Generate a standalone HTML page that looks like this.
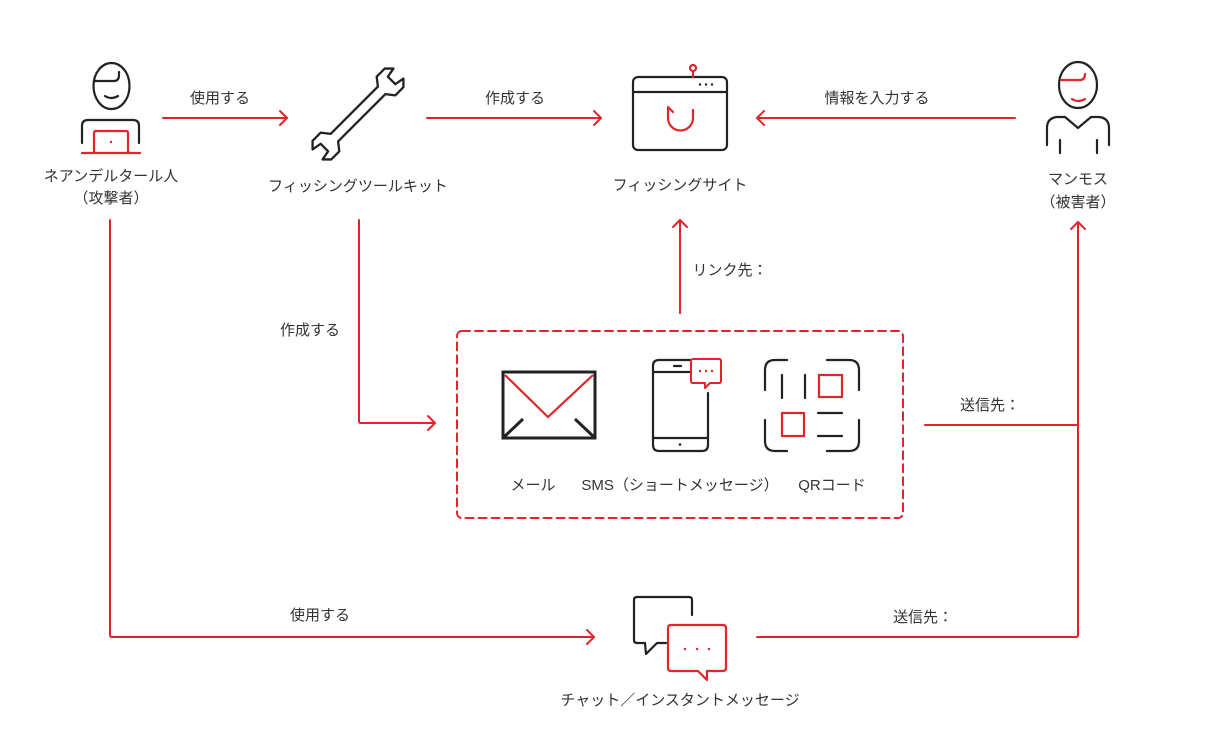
<!DOCTYPE html>
<html><head><meta charset="utf-8">
<style>
html,body{margin:0;padding:0;background:#fff;}
svg{display:block;}
text{font-family:"Liberation Sans","Noto Sans CJK JP",sans-serif;font-size:15px;fill:#333;}
</style></head>
<body>
<svg width="1210" height="745" viewBox="0 0 1210 745" xmlns="http://www.w3.org/2000/svg">
<g fill="none" stroke="#e0262b" stroke-width="2" stroke-linecap="round" stroke-linejoin="round">
  <line x1="163" y1="118" x2="287" y2="118"/>
  <polyline points="280,111 287,118 280,125"/>
  <line x1="427" y1="118" x2="601" y2="118"/>
  <polyline points="594,111 601,118 594,125"/>
  <line x1="1015" y1="118" x2="757" y2="118"/>
  <polyline points="764,111 757,118 764,125"/>
  <path d="M359 220 L359 421 Q359 423 361 423 L435 423"/>
  <polyline points="428,416 435,423 428,430"/>
  <line x1="680" y1="313" x2="680" y2="220"/>
  <polyline points="673,227 680,220 687,227"/>
  <path d="M110 220 L110 635 Q110 637 112 637 L594 637"/>
  <polyline points="587,630 594,637 587,644"/>
  <path d="M757 637 L1076 637 Q1078 637 1078 635 L1078 222"/>
  <polyline points="1071,229 1078,222 1085,229"/>
  <line x1="925" y1="425" x2="1078" y2="425"/>
  <rect x="457" y="331" width="446" height="187" rx="5" stroke-dasharray="8 5"/>
</g>

<!-- Attacker icon -->
<g fill="none" stroke="#222" stroke-width="2.2" stroke-linecap="round" stroke-linejoin="round">
  <ellipse cx="111.5" cy="86" rx="18" ry="23"/>
  <path d="M94 81 L114 81 Q119 81 119 75 L119 72"/>
  <path d="M105 96 Q111 100 118 96"/>
  <path d="M82 143 L82 126 Q82 120 88 120 L133 120 Q139 120 139 126 L139 143"/>
</g>
<g fill="none" stroke="#e0262b" stroke-width="2.2" stroke-linecap="round" stroke-linejoin="round">
  <path d="M94 152 L94 133 Q94 131 96 131 L126 131 Q128 131 128 133 L128 152"/>
  <line x1="82" y1="153" x2="140" y2="153"/>
</g>
<circle cx="111" cy="142" r="1.2" fill="#e0262b"/>

<!-- Wrench -->
<g transform="translate(358,114) rotate(-45) scale(0.88)" fill="none" stroke="#222" stroke-width="2.6" stroke-linejoin="round">
  <path d="M-38 -6 L38 -6 L45 -15 L58 -15 L65 -8 L54 -6 L54 6 L65 8 L58 15 L45 15 L38 6 L-38 6 L-45 15 L-58 15 L-65 8 L-54 6 L-54 -6 L-65 -8 L-58 -15 L-45 -15 Z"/>
</g>

<!-- Phishing site browser -->
<g fill="none" stroke="#222" stroke-width="2.2" stroke-linejoin="round">
  <rect x="633" y="77" width="94" height="73" rx="5"/>
  <line x1="633" y1="92" x2="727" y2="92"/>
</g>
<g fill="#222">
  <circle cx="700" cy="84.5" r="1.2"/><circle cx="706" cy="84.5" r="1.2"/><circle cx="712" cy="84.5" r="1.2"/>
</g>
<g fill="none" stroke="#e0262b" stroke-width="2.2" stroke-linecap="round" stroke-linejoin="round">
  <line x1="693" y1="71" x2="693" y2="77"/>
  <circle cx="693" cy="68" r="3"/>
  <path d="M693 110 L693 118 A12.5 12.5 0 0 1 668 118 L668 107 L673 112"/>
</g>

<!-- Victim icon -->
<g fill="none" stroke="#222" stroke-width="2.2" stroke-linecap="round" stroke-linejoin="round">
  <ellipse cx="1078" cy="85" rx="19" ry="23"/>
  <path d="M1047 145 L1047 128 Q1047 118 1057 117 L1065 117 L1078 128 L1091 117 L1099 117 Q1109 118 1109 128 L1109 145"/>
  <line x1="1060" y1="140" x2="1060" y2="153"/>
  <line x1="1097" y1="140" x2="1097" y2="153"/>
</g>
<g fill="none" stroke="#e0262b" stroke-width="2.2" stroke-linecap="round">
  <path d="M1061 80 L1080 80 Q1085 80 1085 74"/>
  <path d="M1072 99 Q1078 103 1085 99"/>
</g>

<!-- Envelope -->
<g fill="none" stroke="#222" stroke-width="3" stroke-linecap="butt">
  <rect x="503" y="372" width="92" height="66"/>
  <line x1="504" y1="437" x2="523" y2="419"/>
  <line x1="594" y1="437" x2="575" y2="419"/>
</g>
<polyline points="505,375 548,417 593,375" fill="none" stroke="#e0262b" stroke-width="2.2"/>

<!-- Phone -->
<g fill="none" stroke="#222" stroke-width="2.2" stroke-linecap="round" stroke-linejoin="round">
  <path d="M690 360 L659 360 Q653 360 653 366 L653 445 Q653 451 659 451 L702 451 Q708 451 708 445 L708 393"/>
  <line x1="653" y1="372" x2="708" y2="372" stroke-linecap="butt"/>
  <line x1="653" y1="438" x2="708" y2="438"/>
  <line x1="674" y1="366" x2="681" y2="366"/>
</g>
<circle cx="680" cy="444.5" r="1.3" fill="#222"/>
<g fill="none" stroke="#e0262b" stroke-width="2" stroke-linejoin="round">
  <path d="M693 359 L719 359 Q721 359 721 361 L721 381 Q721 383 719 383 L710 383 L705 388 L705 383 L693 383 Q691 383 691 381 L691 361 Q691 359 693 359 Z" fill="#fff"/>
</g>
<g fill="#e0262b">
  <circle cx="700" cy="371" r="1.2"/><circle cx="706" cy="371" r="1.2"/><circle cx="712" cy="371" r="1.2"/>
</g>

<!-- QR -->
<g fill="none" stroke="#222" stroke-width="2.2" stroke-linecap="round" stroke-linejoin="round">
  <path d="M765 390 L765 370 Q765 360 775 360 L787 360"/>
  <path d="M827 360 L849 360 Q859 360 859 370 L859 390"/>
  <path d="M765 420 L765 441 Q765 451 775 451 L787 451"/>
  <path d="M827 451 L849 451 Q859 451 859 441 L859 420"/>
  <line x1="782" y1="375" x2="782" y2="398"/>
  <line x1="805" y1="375" x2="805" y2="398"/>
  <line x1="818" y1="413" x2="842" y2="413"/>
  <line x1="818" y1="436" x2="842" y2="436"/>
</g>
<g fill="none" stroke="#e0262b" stroke-width="2.2">
  <rect x="819" y="375" width="23" height="22"/>
  <rect x="782" y="413" width="22" height="23"/>
</g>

<!-- Chat icon -->
<g fill="none" stroke="#222" stroke-width="2.2" stroke-linecap="round" stroke-linejoin="round">
  <path d="M692 615 L692 600 Q692 597 689 597 L637 597 Q634 597 634 600 L634 640 Q634 643 637 643 L645 643 L646 654 L657 643 L666 643"/>
</g>
<g fill="none" stroke="#e0262b" stroke-width="2.2" stroke-linejoin="round">
  <path d="M671 625 L723 625 Q726 625 726 628 L726 668 Q726 671 723 671 L707 671 L707 680 L698 671 L671 671 Q668 671 668 668 L668 628 Q668 625 671 625 Z" fill="#fff"/>
</g>
<g fill="#e0262b">
  <circle cx="685" cy="649" r="1.2"/><circle cx="697" cy="649" r="1.2"/><circle cx="709" cy="649" r="1.2"/>
</g>

<!-- Labels -->
<g text-anchor="middle">
  <text x="220" y="103">使用する</text>
  <text x="515" y="103">作成する</text>
  <text x="877" y="103">情報を入力する</text>
  <text x="111" y="181">ネアンデルタール人</text>
  <text x="111" y="203">（攻撃者）</text>
  <text x="358" y="191">フィッシングツールキット</text>
  <text x="680" y="190">フィッシングサイト</text>
  <text x="1078" y="184">マンモス</text>
  <text x="1078" y="207">（被害者）</text>
  <text x="310" y="335">作成する</text>
  <text x="730" y="275">リンク先：</text>
  <text x="990" y="410">送信先：</text>
  <text x="533" y="490">メール</text>
  <text x="680" y="490">SMS（ショートメッセージ）</text>
  <text x="832" y="490">QRコード</text>
  <text x="320" y="620">使用する</text>
  <text x="923" y="622">送信先：</text>
  <text x="680" y="705">チャット／インスタントメッセージ</text>
</g>
</svg>
</body></html>
